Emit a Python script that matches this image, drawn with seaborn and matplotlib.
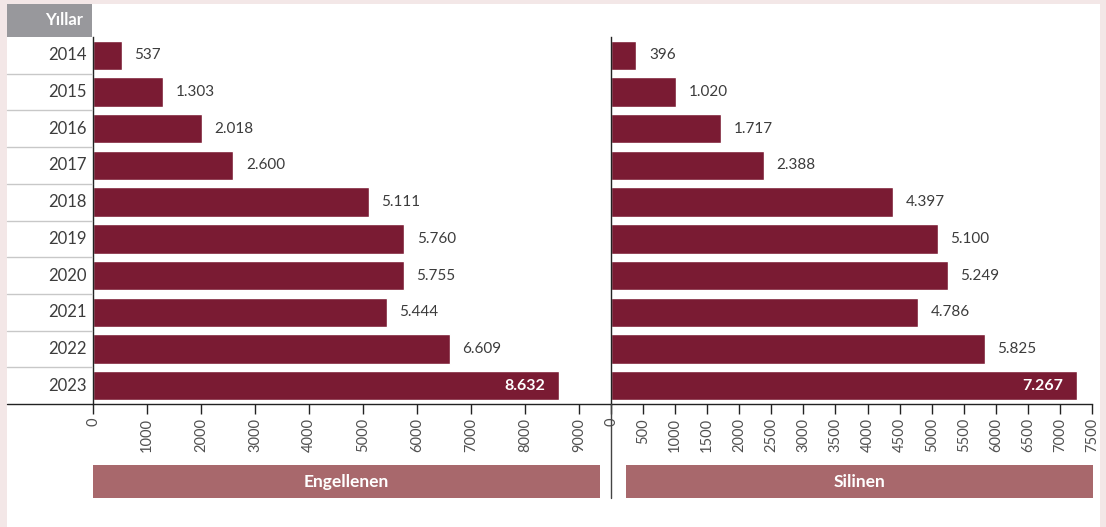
import numpy as np
import pandas as pd
import matplotlib
matplotlib.use("Agg")
import matplotlib.pyplot as plt
import seaborn as sns
from matplotlib.patches import Rectangle
from matplotlib.lines import Line2D

sns.set_theme(style="white")
plt.rcParams["font.family"] = ["Lato", "DejaVu Sans"]

years = ["2014", "2015", "2016", "2017", "2018", "2019", "2020", "2021", "2022", "2023"]
engellenen = [537, 1303, 2018, 2600, 5111, 5760, 5755, 5444, 6609, 8632]
silinen = [396, 1020, 1717, 2388, 4397, 5100, 5249, 4786, 5825, 7267]
left_ticks = [0, 1000, 2000, 3000, 4000, 5000, 6000, 7000, 8000, 9000]
right_ticks = [0, 500, 1000, 1500, 2000, 2500, 3000, 3500, 4000, 4500, 5000, 5500, 6000, 6500, 7000, 7500]

BAR = "#7a1b33"
BOX = "#a8686c"
TXT = "#3c3c3c"
W, H = 1106, 527


def fx(px):
    return px / W


def fy(py):
    return 1 - py / H


def fmt(v):
    return f"{v:,}".replace(",", ".")


fig = plt.figure(figsize=(W / 100, H / 100), dpi=100)
fig.patch.set_facecolor("#f3e7e7")
fig.add_artist(Rectangle((fx(7), 0), fx(1100) - fx(7), fy(4), transform=fig.transFigure,
                         facecolor="white", edgecolor="none", zorder=0))

top, bottom = 37, 404
row_h = (bottom - top) / len(years)

# header box and year column
fig.add_artist(Rectangle((fx(7), fy(top)), fx(92) - fx(7), fy(4) - fy(top), transform=fig.transFigure,
                         facecolor="#98989c", edgecolor="none"))
fig.text(fx(83), fy(20), "Yıllar", ha="right", va="center", color="white",
         fontsize=12, fontweight="bold")
for i, y in enumerate(years):
    fig.text(fx(87), fy(top + row_h * (i + 0.5)), y, ha="right", va="center",
             color=TXT, fontsize=12)
    if i > 0:
        fig.add_artist(Line2D([fx(7), fx(92)], [fy(top + row_h * i)] * 2,
                              transform=fig.transFigure, color="#c8c8c8", lw=1))
fig.add_artist(Line2D([fx(7), fx(93)], [fy(bottom)] * 2, transform=fig.transFigure,
                      color="#222222", lw=1))

df = pd.DataFrame({"year": years, "Engellenen": engellenen, "Silinen": silinen})

panels = [
    (93, 611, 9590, left_ticks, "Engellenen", engellenen, (93, 600)),
    (611, 1092, 7500, right_ticks, "Silinen", silinen, (626, 1093)),
]

for x0, x1, xmax, ticks, col, vals, (b0, b1) in panels:
    ax = fig.add_axes([fx(x0), fy(bottom), fx(x1) - fx(x0), fy(top) - fy(bottom)])
    ax.set_facecolor("none")
    sns.barplot(data=df, x=col, y="year", orient="h", color=BAR, width=0.8,
                saturation=1, ax=ax)
    ax.set_xlim(0, xmax)
    ax.set_ylim(len(years) - 0.5, -0.5)
    ax.set_xlabel("")
    ax.set_ylabel("")
    ax.set_yticks([])
    ax.set_xticks(ticks)
    ax.set_xticklabels([str(t) for t in ticks], rotation=90, fontsize=10.5, color="#505050")
    ax.tick_params(axis="x", bottom=True, direction="out", length=7, width=1,
                   color="#222222", pad=3)
    for s in ["top", "right"]:
        ax.spines[s].set_visible(False)
    for s in ["bottom", "left"]:
        ax.spines[s].set_color("#222222")
        ax.spines[s].set_linewidth(1)

    for i, v in enumerate(vals):
        if i == len(vals) - 1:
            ax.annotate(fmt(v), (v, i), xytext=(-10, 0), textcoords="offset points",
                        ha="right", va="center", color="white", fontsize=11.5, fontweight="bold")
        else:
            ax.annotate(fmt(v), (v, i), xytext=(9, 0), textcoords="offset points",
                        ha="left", va="center", color=TXT, fontsize=11)

    fig.add_artist(Rectangle((fx(b0), fy(498)), fx(b1) - fx(b0), fy(465) - fy(498),
                             transform=fig.transFigure, facecolor=BOX, edgecolor="none"))
    fig.text((fx(b0) + fx(b1)) / 2, fy(482), col, ha="center", va="center",
             color="white", fontsize=12.5, fontweight="bold")

# divider line between panels
fig.add_artist(Line2D([fx(611), fx(611)], [fy(bottom), fy(498)], transform=fig.transFigure,
                      color="#444444", lw=1))

fig.savefig("out.png", dpi=100, facecolor=fig.get_facecolor())
